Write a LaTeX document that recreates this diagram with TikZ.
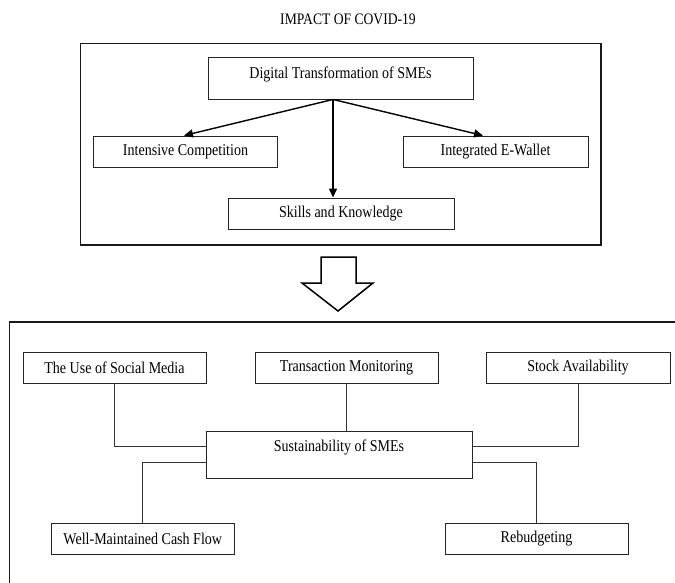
\documentclass[tikz,border=0pt]{standalone}
\usepackage{fontspec}
\setmainfont[FakeStretch=0.85]{Liberation Serif}
\usetikzlibrary{arrows.meta,calc}
\begin{document}
\begin{tikzpicture}[x=1pt,y=1pt,
  box/.style={draw=black!85, line width=0.9pt, rectangle, inner sep=0pt,
    minimum height=31pt, font=\fontsize{16.5}{19}\selectfont},
  frame/.style={draw=black!90, line width=1.8pt},
  arr/.style={draw=black, line width=1.4pt, -{Triangle[length=9pt,width=8pt]}},
  link/.style={draw=black!80, line width=0.9pt}]
\useasboundingbox (0,0) rectangle (675,-583);
\node[font=\fontsize{16}{19}\selectfont] (title) at (348,-19.5) {IMPACT OF COVID-19};
% top frame
\draw[frame] (80.5,-43.5) rectangle (601,-245);
\node[box, minimum width=265pt, minimum height=42pt, text height=10pt, text depth=8pt] (dt) at (340.5,-78) {Digital Transformation of SMEs};
\node[box, minimum width=184pt] (ic) at (185.5,-151.5) {Intensive Competition};
\node[box, minimum width=185pt] (ew) at (495.5,-151.5) {Integrated E-Wallet};
\node[box, minimum width=226pt] (sk) at (341,-213.5) {Skills and Knowledge};
\coordinate (hub) at ([xshift=-7.5pt]dt.south);
\draw[arr] (hub) -- ([xshift=-1.5pt]ic.north);
\draw[arr] (hub) -- ([xshift=-12.5pt]ew.north);
\draw[arr] (hub) -- (hub |- sk.north);
% hollow arrow
\draw[line width=1.5pt, draw=black, fill=white, line join=miter]
  (321,-257) -- (356,-257) -- (356,-283) -- (373,-283) -- (338,-311) -- (302,-283) -- (321,-283) -- cycle;
% bottom frame
\draw[frame] (9.5,-590) -- (9.5,-322) -- (680,-322);
\node[box, minimum width=183pt] (sm) at (114.5,-367.5) {The Use of Social Media};
\node[box, minimum width=183pt] (tm) at (346.5,-367.5) {Transaction Monitoring};
\node[box, minimum width=184pt] (sa) at (578,-367.5) {Stock Availability};
\node[box, minimum width=266pt, minimum height=47pt, text height=10pt, text depth=17pt] (su) at (339,-454.5) {Sustainability of SMEs};
\node[box, minimum width=183.5pt] (wm) at (142.75,-538.5) {Well-Maintained Cash Flow};
\node[box, minimum width=183pt] (rb) at (536.5,-538.5) {Rebudgeting};
\coordinate (sul) at ([yshift=8.5pt]su.west);
\coordinate (sul2) at ([yshift=-7.5pt]su.west);
\coordinate (sur) at ([yshift=8.5pt]su.east);
\coordinate (sur2) at ([yshift=-7.5pt]su.east);
\draw[link] (sm.south) |- (sul);
\draw[link] (tm.south) -- (tm.south |- su.north);
\draw[link] (sa.south) |- (sur);
\draw[link] (wm.north) |- (sul2);
\draw[link] (rb.north) |- (sur2);
\end{tikzpicture}
\end{document}
